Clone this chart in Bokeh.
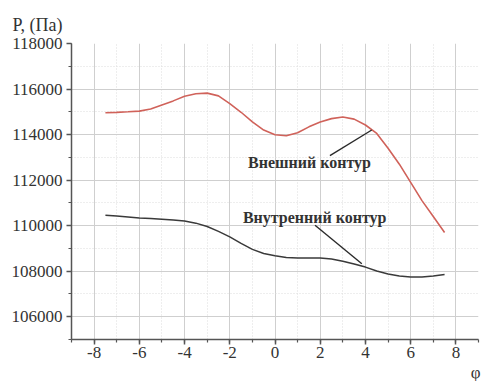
from bokeh.plotting import figure
from bokeh.models import (Range1d, SingleIntervalTicker, Label, ColumnDataSource, Title,
                          PrintfTickFormatter)
from bokeh.embed import file_html
from bokeh.resources import INLINE

# --- data ---
phi = [-7.5, -7.0, -6.5, -6.0, -5.5, -5.0, -4.5, -4.0, -3.5, -3.0, -2.5, -2.0, -1.5, -1.0, -0.5,
       0.0, 0.5, 1.0, 1.5, 2.0, 2.5, 3.0, 3.5, 4.0, 4.5, 5.0, 5.5, 6.0, 6.5, 7.0, 7.5]
outer_p = [114960, 114975, 115000, 115030, 115120, 115300, 115480, 115680, 115790, 115820,
           115700, 115360, 114980, 114560, 114200, 113990, 113950, 114080, 114340, 114550,
           114700, 114770, 114680, 114420, 114050, 113400, 112700, 111900, 111100, 110400, 109700]
inner_p = [110460, 110420, 110380, 110340, 110310, 110280, 110250, 110200, 110110, 109960,
           109750, 109510, 109220, 108960, 108780, 108680, 108600, 108580, 108580, 108580,
           108540, 108440, 108320, 108180, 108010, 107880, 107790, 107750, 107750, 107790, 107850]

outer_name = "Внешний контур"
inner_name = "Внутренний контур"
y_title = "P, (Па)"
x_label = "φ"

# annotation anchors (data units)
outer_ptr_x = [2.43, 4.28]
outer_ptr_y = [113076, 114200]
inner_ptr_x = [1.77, 3.84]
inner_ptr_y = [110017, 108330]
outer_txt = (-1.19, 112780)
inner_txt = (-1.42, 110380)

FONT = "Liberation Serif"
TXT = "#333333"

p = figure(width=482, height=381, output_backend="svg", toolbar_location=None,
           x_range=Range1d(-9, 9), y_range=Range1d(105000, 118000),
           min_border_left=71, min_border_right=4, min_border_top=43, min_border_bottom=42)
p.outline_line_color = None
p.background_fill_color = "white"
p.border_fill_color = "white"

p.xaxis.ticker = SingleIntervalTicker(interval=2, num_minor_ticks=2)
p.yaxis.ticker = SingleIntervalTicker(interval=2000, num_minor_ticks=2)
p.xaxis.formatter = PrintfTickFormatter(format="%d")
p.yaxis.formatter = PrintfTickFormatter(format="%d")

for ax in (p.xaxis[0], p.yaxis[0]):
    ax.axis_line_color = "#555555"
    ax.axis_line_width = 1.5
    ax.major_tick_line_color = "#555555"
    ax.major_tick_line_width = 1.5
    ax.minor_tick_line_color = "#555555"
    ax.minor_tick_line_width = 1.2
    ax.major_tick_out = 5
    ax.major_tick_in = 0
    ax.minor_tick_out = 3
    ax.minor_tick_in = 0
    ax.major_label_text_font = FONT
    ax.major_label_text_font_size = "17px"
    ax.major_label_text_color = TXT
p.yaxis.major_label_standoff = 4
p.xaxis.major_label_standoff = 2

for g in (p.xgrid[0], p.ygrid[0]):
    g.grid_line_color = "#cfcfcf"
    g.grid_line_width = 1
    g.minor_grid_line_color = "#dddddd"
    g.minor_grid_line_dash = "1 2"
    g.minor_grid_line_width = 1

src = ColumnDataSource(dict(phi=phi, outer=outer_p, inner=inner_p))
p.line("phi", "outer", source=src, line_color="#d0625a", line_width=1.6)
p.line("phi", "inner", source=src, line_color="#3a3a3a", line_width=1.5)

p.line(outer_ptr_x, outer_ptr_y, line_color="#2a2a2a", line_width=1.4)
p.line(inner_ptr_x, inner_ptr_y, line_color="#2a2a2a", line_width=1.4)

p.add_layout(Label(x=outer_txt[0], y=outer_txt[1], text=outer_name, text_font=FONT,
                   text_font_size="16px", text_font_style="bold", text_color=TXT,
                   text_baseline="middle", text_align="left"))
p.add_layout(Label(x=inner_txt[0], y=inner_txt[1], text=inner_name, text_font=FONT,
                   text_font_size="16px", text_font_style="bold", text_color=TXT,
                   text_baseline="middle", text_align="left"))

t_top = Title(text=y_title, align="left", offset=-59, text_font=FONT,
              text_font_size="18px", text_font_style="normal", text_color=TXT,
              standoff=17)
p.add_layout(t_top, "above")
t_bot = Title(text=x_label, align="right", offset=-2, text_font=FONT,
              text_font_size="17px", text_font_style="normal", text_color=TXT,
              standoff=0)
p.add_layout(t_bot, "below")
p.title.visible = False

open("out.html", "w").write(file_html(p, INLINE))
